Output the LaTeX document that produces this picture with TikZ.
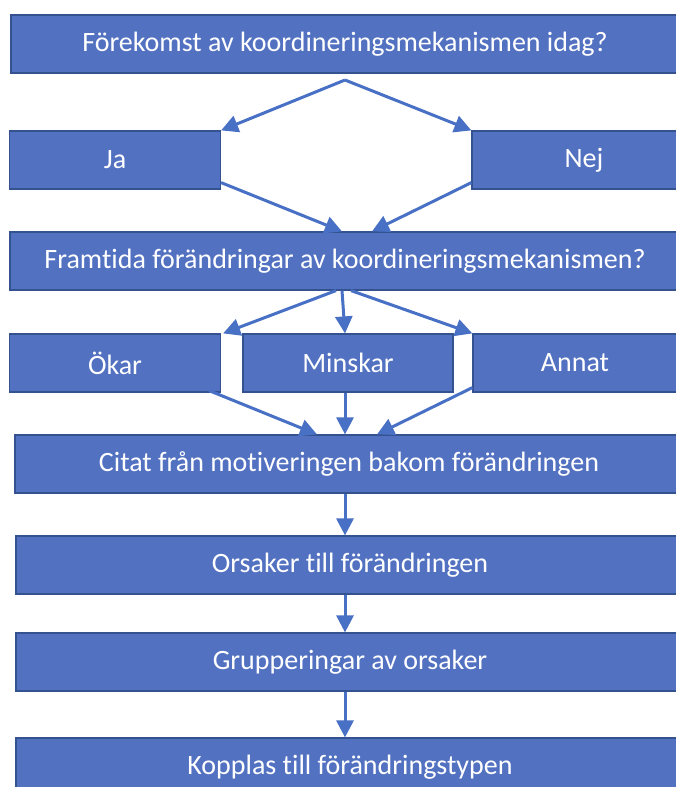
\documentclass[tikz,border=0pt]{standalone}
\usepackage{fontspec}
\setmainfont{Carlito}[Ligatures=NoCommon]
\usetikzlibrary{arrows.meta}
\definecolor{boxblue}{RGB}{82,113,193}
\definecolor{edgeblue}{RGB}{52,82,143}
\definecolor{arrowblue}{RGB}{72,112,196}
\tikzset{every picture/.style={line width=0.75pt}}
\tikzset{
  box/.style={draw=edgeblue, line width=1.2pt, fill=boxblue, text=white,
    minimum height=58pt, inner sep=0pt, font=\fontsize{28}{32}\selectfont},
  arr/.style={draw=arrowblue, line width=3pt,
    -{Triangle[length=17pt,width=17pt]}, shorten >=0pt}
}

\begin{document}
\begin{tikzpicture}[x=1pt,y=-1pt]
\useasboundingbox (0,0) rectangle (676,787);
\node[box, minimum width=668pt] (top) at (345,44) {Förekomst av koordineringsmekanismen idag?};
%
\node[box, minimum width=211pt] (ja) at (115,160) {Ja};
\node[box, minimum width=224pt] (nej) at (584,160) {Nej};
\node[box, minimum width=670pt] (framtida) at (345,261) {Framtida förändringar av koordineringsmekanismen?};
%
\node[box, minimum width=211pt] (okar) at (115,363) {Ökar};
\node[box, minimum width=210pt] (minskar) at (348,363) {Minskar};
\node[box, minimum width=204pt] (annat) at (575,363) {Annat};
%
\node[box, minimum width=668pt] (citat) at (349,464) {Citat från motiveringen bakom förändringen};
\node[box, minimum width=668pt] (orsaker) at (350,565) {Orsaker till förändringen};
\node[box, minimum width=668pt] (grupp) at (350,662) {Grupperingar av orsaker};
\node[box, minimum width=668pt] (kopplas) at (350,767) {Kopplas till förändringstypen};
%
\coordinate (fork1) at (345,80);
\draw[arr] (fork1) -- (ja.north east);
\draw[arr] (fork1) -- (nej.north west);
\draw[arr] ([yshift=7pt]ja.south east) -- ([xshift=-3pt]framtida.north);
\draw[arr] ([yshift=7pt]nej.south west) -- ([xshift=27pt]framtida.north);
%
\draw[arr] ([xshift=-9pt]framtida.south) -- ([xshift=2pt]okar.north east);
\draw[arr] ([xshift=-3pt]framtida.south) -- ([xshift=-3pt]minskar.north);
\draw[arr] ([xshift=6pt]framtida.south) -- (annat.north west);
%
\draw[arr] ([xshift=-12pt,yshift=2pt]okar.south east) -- ([xshift=-32pt]citat.north);
\draw[arr] ([xshift=-3pt]minskar.south) -- ([xshift=-4pt]citat.north);
\draw[arr] ([yshift=5pt]annat.south west) -- ([xshift=28pt]citat.north);
%
\draw[arr] ([xshift=-4pt]citat.south) -- ([xshift=-5pt]orsaker.north);
\draw[arr] ([xshift=-5pt]orsaker.south) -- ([xshift=-5pt]grupp.north);
\draw[arr] ([xshift=-5pt]grupp.south) -- ([xshift=-5pt]kopplas.north);
\end{tikzpicture}
\end{document}
